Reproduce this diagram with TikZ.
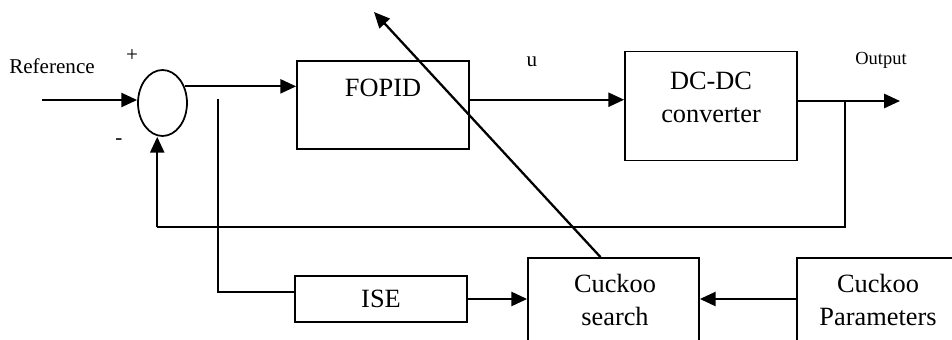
\documentclass[tikz,border=0pt]{standalone}
\usepackage{fontspec}
\setmainfont{Liberation Serif}
\usetikzlibrary{calc,arrows.meta,shapes.geometric}
\tikzset {>={Triangle[length=9pt,width=8pt]}}
\tikzset{block/.style={draw, line width=1pt, inner sep=0pt},
  big/.style={font=\fontsize{15}{18.7}\selectfont, align=center, inner sep=0pt},
  small/.style={font=\fontsize{12}{14}\selectfont, inner sep=0pt},
  signal/.style={line width=1.3pt},
  wire/.style={line width=1pt}}

\begin{document}
\begin{tikzpicture}[x=0.02cm,y=-0.02cm]
\useasboundingbox (0,0) rectangle (952,340);

% Place summing junction and blocks
\node (sum) [ellipse, draw, line width=1pt, inner sep=0pt, minimum width=0.98cm, minimum height=1.32cm] at (162.5,103) {};
\node (fopid) [block, minimum width=3.44cm, minimum height=1.76cm] at (383,105) {};
\node (fopidtxt) [big] at (383,88) {FOPID};
\node (dc) [block, minimum width=3.44cm, minimum height=2.18cm] at (711,106) {};
\node (dctxt) [big] at (711,97) {DC-DC\\converter};
\node (ise) [block, big, minimum width=3.44cm, minimum height=0.92cm] at (381,299) {ISE};
\node (search) [block, minimum width=3.42cm, minimum height=1.8cm] at (613.5,303) {};
\node (searchtxt) [big] at (615,300) {Cuckoo\\search};
\node (param) [block, minimum width=3.32cm, minimum height=1.8cm] at (880,303) {};
\node (paramtxt) [big] at (878,300) {Cuckoo\\Parameters};

% Labels
\node (reflbl) [small] at (52,66) {Reference};
\node (plus) [small] at (132,56) {+};
\node (minus) [small] at (119,142) {-};
\node (ulbl) [small] at (532,62) {u};
\node (outlbl) [font=\fontsize{10.5}{12}\selectfont, inner sep=0pt] at (881,60) {Output};

% Free ends
\coordinate (ref) at (42,100);
\coordinate (out) at (900,101);
\coordinate (fb) at (845,101);
\coordinate (fbturn) at (845,227);
\coordinate (tap) at (218,99);
\coordinate (tune) at (374,12);

% Forward path
\draw [signal,->] (ref) -- (sum.west |- ref);
\draw [signal,->] (sum.37) -- (sum.37 -| fopid.west);
\draw [signal,->] ([yshift=3pt]fopid.east) -- ([yshift=3pt]fopid.east -| dc.west);
\draw [signal,->] (out -| dc.east) -- (out);

% Feedback path
\draw [wire] (fb) |- ([xshift=-3pt]sum.south |- fbturn);
\draw [signal,->] ([xshift=-3pt]sum.south |- fbturn) -- ([xshift=-3pt]sum.south);

% Tuning loop
\draw [wire] (tap) |- ([yshift=4pt]ise.west);
\draw [signal,->] (ise.east) -- (ise.east -| search.west);
\draw [signal,->] (param.west |- ise.east) -- (search.east |- ise.east);
\draw [signal,->] ([xshift=-7.4pt]search.north) -- (tune);

\end{tikzpicture}
\end{document}
